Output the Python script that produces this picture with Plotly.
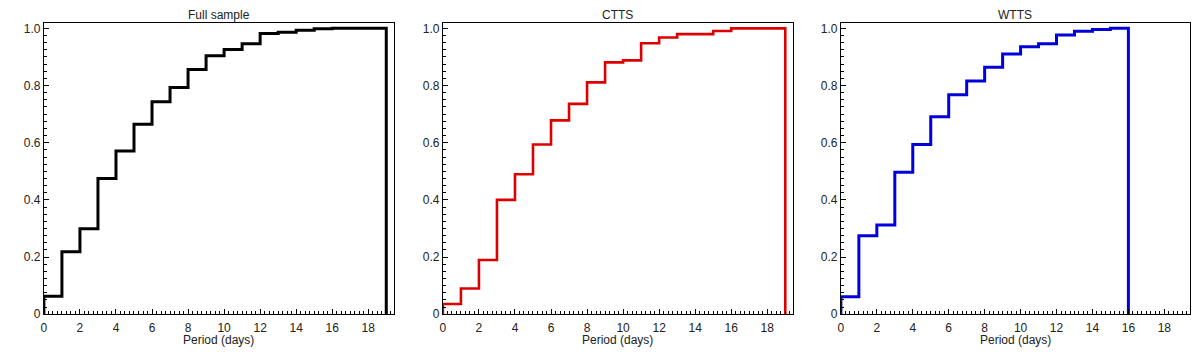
import plotly.graph_objects as go

# Period bin edges (days) and cumulative fractions per bin
bin_starts = list(range(0, 17))

cdf_full = [0.063, 0.219, 0.299, 0.475, 0.571, 0.665, 0.743, 0.793, 0.856,
            0.904, 0.926, 0.946, 0.982, 0.986, 0.993, 0.999, 1.0]
end_full = 19

cdf_ctts = [0.036, 0.090, 0.190, 0.400, 0.490, 0.594, 0.678, 0.736, 0.811,
            0.881, 0.888, 0.948, 0.968, 0.980, 0.980, 0.991, 1.0]
end_ctts = 19

cdf_wtts = [0.061, 0.275, 0.312, 0.497, 0.594, 0.691, 0.768, 0.816, 0.864,
            0.910, 0.936, 0.946, 0.977, 0.990, 0.996, 1.0]
end_wtts = 16

titles = ["Full sample", "CTTS", "WTTS"]
x_title = "Period (days)"
colors = ["#000000", "#dd0000", "#0000dd"]
widths = [3, 2.6, 3]

x_ticks = list(range(0, 19, 2))
x_ticklabels = [str(v) for v in x_ticks]
y_ticks = [0, 0.2, 0.4, 0.6, 0.8, 1.0]
y_ticklabels = ["0", "0.2", "0.4", "0.6", "0.8", "1.0"]

series = [(cdf_full, end_full), (cdf_ctts, end_ctts), (cdf_wtts, end_wtts)]

W, H = 1200, 355
x_domains = [(41, 392), (441, 792), (840, 1190)]
y_dom = [(H - 320.5) / H, (H - 22) / H]

fig = go.Figure()
font = "Liberation Sans, Arial, sans-serif"

for i, ((vals, end), col, lw) in enumerate(zip(series, colors, widths)):
    n = len(vals)
    xs = [0] + bin_starts[:n] + [end]
    ys = [0] + vals + [0]
    ax = "" if i == 0 else str(i + 1)
    fig.add_trace(go.Scatter(
        x=xs, y=ys, mode="lines", line=dict(color=col, width=lw, shape="hv"),
        xaxis="x" + ax, yaxis="y" + ax, showlegend=False, hoverinfo="skip"))
    xa = dict(
        domain=[x_domains[i][0] / W, x_domains[i][1] / W], range=[0, 19.43],
        anchor="y" + ax, tickmode="array", tickvals=x_ticks, ticktext=x_ticklabels,
        ticks="inside", ticklen=5, tickwidth=1, tickcolor="#000",
        showline=True, linecolor="#000", linewidth=1, mirror=True,
        showgrid=False, zeroline=False, ticklabelstandoff=2,
        tickfont=dict(family=font, size=12, color="#222"),
        minor=dict(dtick=0.25, tick0=0, ticks="inside", ticklen=3, tickcolor="#000", showgrid=False),
    )
    ya = dict(
        domain=y_dom, range=[0, 1.0205], anchor="x" + ax,
        tickmode="array", tickvals=y_ticks, ticktext=y_ticklabels,
        ticks="inside", ticklen=5, tickwidth=1, tickcolor="#000",
        showline=True, linecolor="#000", linewidth=1, mirror=True,
        showgrid=False, zeroline=False,
        tickfont=dict(family=font, size=12, color="#222"),
        minor=dict(dtick=0.025, tick0=0, ticks="inside", ticklen=3, tickcolor="#000", showgrid=False),
    )
    fig.update_layout(**{"xaxis" + ax: xa, "yaxis" + ax: ya})
    cx = (x_domains[i][0] + x_domains[i][1]) / 2 / W
    fig.add_annotation(
        text=titles[i], xref="paper", yref="paper", x=cx, y=(H - 14) / H,
        showarrow=False, xanchor="center", yanchor="middle",
        font=dict(family=font, size=12, color="#222"))
    fig.add_annotation(
        text=x_title, xref="paper", yref="paper", x=cx, y=(H - 347) / H,
        showarrow=False, xanchor="center", yanchor="middle",
        font=dict(family=font, size=12, color="#222"))

fig.update_layout(
    width=W, height=H, margin=dict(l=0, r=0, t=0, b=0),
    paper_bgcolor="white", plot_bgcolor="white",
)

fig.write_html("out.html", config={"displayModeBar": False},
               post_script="document.body.style.margin='0';document.body.style.overflow='hidden';")
